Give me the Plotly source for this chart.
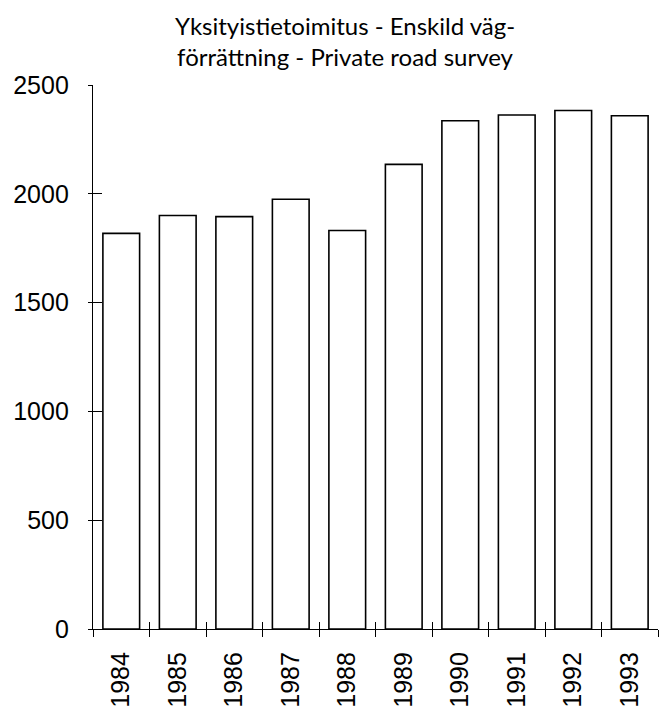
import plotly.graph_objects as go

years = [1984, 1985, 1986, 1987, 1988, 1989, 1990, 1991, 1992, 1993]
surveys = [1818, 1900, 1895, 1975, 1831, 2135, 2336, 2362, 2383, 2359]
y_ticks = [0, 500, 1000, 1500, 2000, 2500]
title_text = "Yksityistietoimitus - Enskild väg-<br>förrättning - Private road survey"

x_lo = years[0] - 0.5
x_hi = years[-1] + 0.5
boundaries = [y - 0.5 for y in years] + [x_hi]

fig = go.Figure()

fig.add_trace(go.Bar(
    x=years,
    y=surveys,
    width=0.65,
    marker=dict(color='white', line=dict(color='black', width=1.6)),
    showlegend=False,
))

axis_font = dict(family='Liberation Sans, Arial, sans-serif', size=25, color='black')

fig.update_layout(
    width=671,
    height=710,
    margin=dict(l=93, r=13, t=85, b=81, autoexpand=False),
    paper_bgcolor='white',
    plot_bgcolor='white',
    xaxis=dict(
        range=[x_lo, x_hi],
        tickvals=years,
        ticktext=[str(y) for y in years],
        tickangle=-90,
        ticks='',
        ticklabelstandoff=12,
        showline=True,
        linecolor='black',
        linewidth=1.3,
        showgrid=False,
        zeroline=False,
        automargin=False,
        tickfont=axis_font,
    ),
    xaxis2=dict(
        overlaying='x',
        anchor='y',
        side='bottom',
        range=[x_lo, x_hi],
        tickvals=boundaries,
        ticks='outside',
        ticklen=7,
        tickcolor='black',
        showticklabels=False,
        showgrid=False,
        zeroline=False,
        automargin=False,
    ),
    xaxis3=dict(
        overlaying='x',
        anchor='y',
        side='bottom',
        range=[x_lo, x_hi],
        tickvals=boundaries,
        ticks='inside',
        ticklen=7,
        tickcolor='black',
        showticklabels=False,
        showgrid=False,
        zeroline=False,
        automargin=False,
    ),
    yaxis=dict(
        range=[0, 2500],
        tickvals=y_ticks,
        ticks='outside',
        ticklen=4,
        tickcolor='black',
        ticklabelstandoff=14,
        showline=True,
        linecolor='black',
        linewidth=1.3,
        showgrid=False,
        zeroline=False,
        automargin=False,
        tickfont=axis_font,
    ),
    yaxis2=dict(
        overlaying='y',
        anchor='x',
        side='left',
        range=[0, 2500],
        tickvals=y_ticks,
        ticks='inside',
        ticklen=9,
        tickcolor='black',
        showticklabels=False,
        showgrid=False,
        zeroline=False,
        automargin=False,
    ),
)

fig.add_annotation(
    text=title_text,
    xref='paper', yref='paper',
    x=(345 - 93) / (671 - 93 - 13), xanchor='center',
    y=1 + 76 / (710 - 85 - 81), yanchor='top',
    showarrow=False,
    align='center',
    font=dict(family='Lato, Open Sans, sans-serif', size=24, color='black'),
)

# empty traces so the overlay tick axes are drawn
fig.add_trace(go.Scatter(x=[x_lo], y=[0], xaxis='x2', yaxis='y', mode='none',
                         showlegend=False, hoverinfo='skip'))
fig.add_trace(go.Scatter(x=[x_lo], y=[0], xaxis='x3', yaxis='y', mode='none',
                         showlegend=False, hoverinfo='skip'))
fig.add_trace(go.Scatter(x=[x_lo], y=[0], xaxis='x', yaxis='y2', mode='none',
                         showlegend=False, hoverinfo='skip'))

# page default body margin would shift the figure
fig.write_html("out.html", config={'displayModeBar': False},
               post_script="document.body.style.margin='0';")
